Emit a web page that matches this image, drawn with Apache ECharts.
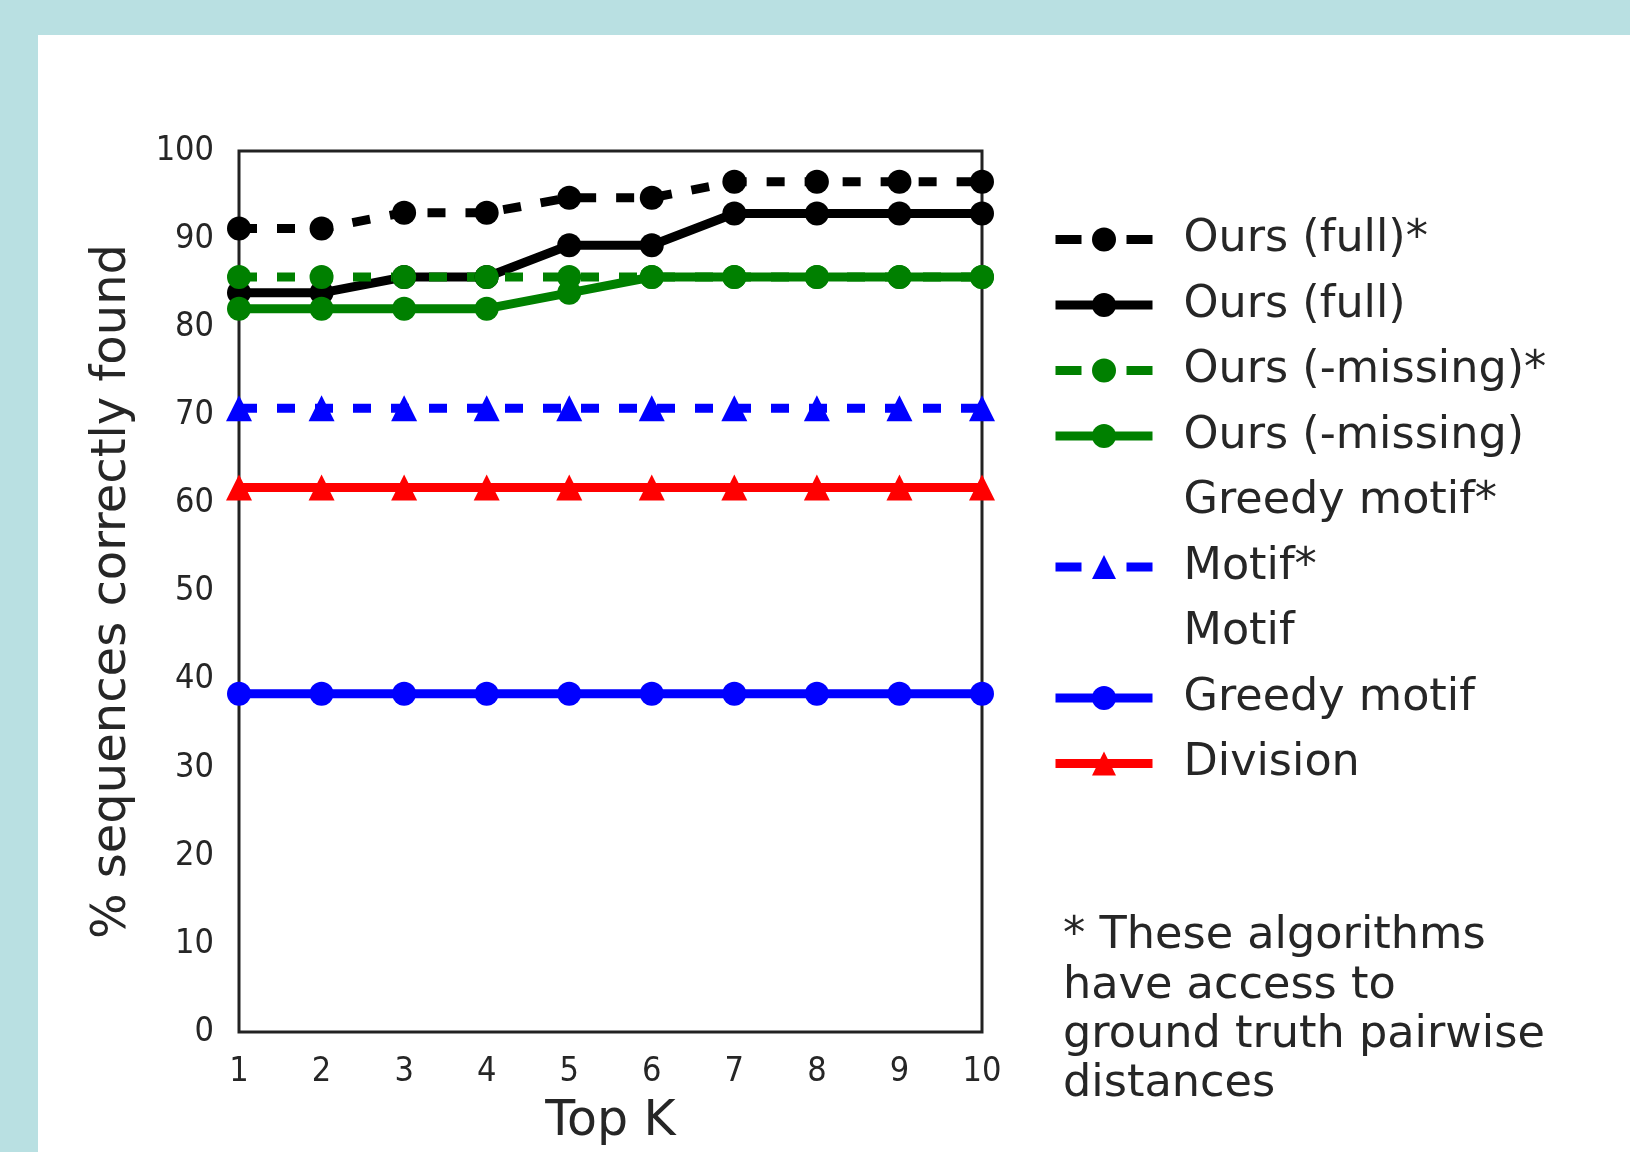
<!DOCTYPE html>
<html>
<head>
<meta charset="utf-8">
<script src="https://cdn.jsdelivr.net/npm/echarts@6/dist/echarts.min.js"></script>
<style>
  html, body { margin: 0; padding: 0; }
  body { width: 1630px; height: 1152px; background: #b9e0e2; position: relative; overflow: hidden; }
  #paper { position: absolute; left: 38px; top: 35px; right: 0; bottom: 0; background: #ffffff; }
  #chart { position: absolute; left: 0; top: 0; width: 1630px; height: 1152px; }
</style>
</head>
<body>
<div id="paper"></div>
<div id="chart"></div>
<script>
// ---- data ----
const topK = [1, 2, 3, 4, 5, 6, 7, 8, 9, 10];
const yTicks = [0, 10, 20, 30, 40, 50, 60, 70, 80, 90, 100];

const oursFullStar    = [91.2, 91.2, 93.0, 93.0, 94.7, 94.7, 96.5, 96.5, 96.5, 96.5];
const oursFull        = [83.9, 83.9, 85.7, 85.7, 89.3, 89.3, 92.9, 92.9, 92.9, 92.9];
const oursMissingStar = [85.7, 85.7, 85.7, 85.7, 85.7, 85.7, 85.7, 85.7, 85.7, 85.7];
const oursMissing     = [82.1, 82.1, 82.1, 82.1, 83.9, 85.7, 85.7, 85.7, 85.7, 85.7];
const greedyMotifStar = [];   // listed in legend only, not drawn
const motifStar       = [70.8, 70.8, 70.8, 70.8, 70.8, 70.8, 70.8, 70.8, 70.8, 70.8];
const motif           = [];   // listed in legend only, not drawn
const greedyMotif     = [38.4, 38.4, 38.4, 38.4, 38.4, 38.4, 38.4, 38.4, 38.4, 38.4];
const division        = [61.8, 61.8, 61.8, 61.8, 61.8, 61.8, 61.8, 61.8, 61.8, 61.8];

const seriesNames = ['Ours (full)*', 'Ours (full)', 'Ours (-missing)*', 'Ours (-missing)',
                     'Greedy motif*', 'Motif*', 'Motif', 'Greedy motif', 'Division'];
const footnote = ['* These algorithms', 'have access to', 'ground truth pairwise', 'distances'];

// ---- chart ----
const FONT = "'DejaVu Sans', 'Noto Sans', sans-serif";
const TICKFONT = "'DejaVu Sans Condensed', 'DejaVu Sans', sans-serif";
const TXT = '#262626';
const LW = 9;

function pts(arr) { return arr.map((v, i) => [topK[i], v]); }

const DASH = [18, 20];
const LEGEND_DASH = [26, 45];
const dashedFlags = [true, false, true, false, false, true, false, false, false];

function mk(name, data, color, dashed, symbol, size) {
  return {
    name: name,
    type: 'line',
    data: pts(data),
    color: color,
    symbol: symbol,
    symbolSize: size,
    showAllSymbol: true,
    lineStyle: { width: LW, color: color, type: dashed ? DASH : 'solid', cap: 'butt' },
    itemStyle: { color: color },
    emphasis: { disabled: true },
    animation: false
  };
}

const series = [
  mk(seriesNames[0], oursFullStar, '#000000', dashedFlags[0], 'circle', 24),
  mk(seriesNames[1], oursFull, '#000000', dashedFlags[1], 'circle', 24),
  mk(seriesNames[2], oursMissingStar, '#008000', dashedFlags[2], 'circle', 24),
  mk(seriesNames[3], oursMissing, '#008000', dashedFlags[3], 'circle', 24),
  mk(seriesNames[4], greedyMotifStar, 'rgba(0,0,0,0)', dashedFlags[4], 'none', 0),
  mk(seriesNames[5], motifStar, '#0000ff', dashedFlags[5], 'triangle', 26),
  mk(seriesNames[6], motif, 'rgba(0,0,0,0)', dashedFlags[6], 'none', 0),
  mk(seriesNames[7], greedyMotif, '#0000ff', dashedFlags[7], 'circle', 24),
  mk(seriesNames[8], division, '#ff0000', dashedFlags[8], 'triangle', 26)
];

const legendData = seriesNames.map((n, i) => ({
  name: n,
  lineStyle: { width: LW, type: dashedFlags[i] ? LEGEND_DASH : 'solid' }
}));

const chart = echarts.init(document.getElementById('chart'), null, { renderer: 'canvas' });
chart.setOption({
  animation: false,
  backgroundColor: 'transparent',
  textStyle: { fontFamily: FONT, color: TXT },
  grid: {
    left: 239, top: 151, width: 743, height: 883,
    show: true, borderColor: '#222222', borderWidth: 3, backgroundColor: 'transparent'
  },
  xAxis: {
    type: 'value', min: 1, max: 10, interval: 1,
    name: 'Top K', nameLocation: 'middle', nameGap: 66,
    nameTextStyle: { fontFamily: FONT, fontSize: 49, color: TXT },
    axisLine: { show: false }, axisTick: { show: false }, splitLine: { show: false },
    axisLabel: { fontFamily: TICKFONT, fontSize: 34, color: TXT, margin: 23,
                 formatter: v => String(topK[topK.indexOf(v)]) }
  },
  yAxis: {
    type: 'value', min: yTicks[0], max: yTicks[yTicks.length - 1], interval: 10,
    name: '% sequences correctly found', nameLocation: 'middle', nameGap: 102, nameRotate: 90,
    nameTextStyle: { fontFamily: FONT, fontSize: 48, color: TXT },
    axisLine: { show: false }, axisTick: { show: false }, splitLine: { show: false },
    axisLabel: { fontFamily: TICKFONT, fontSize: 34, color: TXT, margin: 25,
                 padding: [0, 0, 8, 0] }
  },
  legend: {
    orient: 'vertical', left: 1051, top: 217, padding: 0,
    itemWidth: 97, itemHeight: 30, itemGap: 20.5,
    data: legendData,
    selectedMode: false,
    lineStyle: { width: LW },
    textStyle: { fontFamily: FONT, fontSize: 44.5, color: TXT, padding: [0, 0, 0, 26] }
  },
  graphic: [{
    type: 'text', left: 1063, top: 912, z: 10,
    style: { text: footnote.join('\n'), fontFamily: FONT, fontSize: 44.6, lineHeight: 49.3, fill: TXT }
  }],
  series: series
});
</script>
</body>
</html>
